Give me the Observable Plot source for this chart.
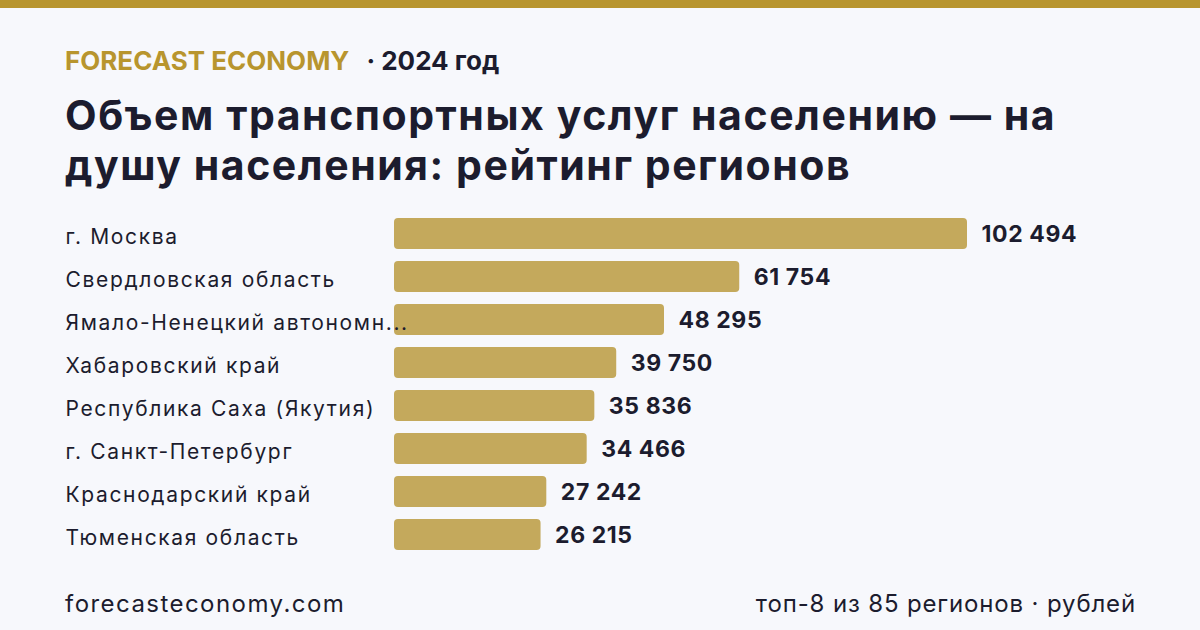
<!DOCTYPE html>
<html>
<head>
<meta charset="utf-8">
<script src="https://cdn.jsdelivr.net/npm/d3@7"></script>
<script src="https://cdn.jsdelivr.net/npm/@observablehq/plot@0.6"></script>
<style>
  html, body { margin: 0; padding: 0; }
  body { width: 1200px; height: 630px; background: #f7f8fc; position: relative; overflow: hidden; font-family: Inter, sans-serif; color: #1c1c2e; }
  .topbar { position: absolute; left: 0; top: 0; width: 1200px; height: 8px; background: #b8952f; }
  .brand { position: absolute; left: 65px; top: 45px; font-size: 26px; font-weight: 700; white-space: nowrap; }
  .brand .gold { color: #b8952e; }
  .brand .year { margin-left: 17px; }
  .title { position: absolute; left: 65px; top: 90px; width: 1050px; font-size: 41px; line-height: 50px; font-weight: 700; letter-spacing: 1.55px; }
  .foot-l { position: absolute; left: 65px; top: 589px; font-size: 24px; letter-spacing: 1.45px; }
  .foot-r { position: absolute; right: 64px; top: 589px; font-size: 24px; letter-spacing: 0.85px; }
  #chart { position: absolute; left: 0; top: 200px; }
  #chart g.labels { letter-spacing: 1.65px; }
  #chart g.values { letter-spacing: 0.6px; }
</style>
</head>
<body>
<div class="topbar"></div>
<div class="brand"><span class="gold">FORECAST ECONOMY</span><span class="year">· 2024 год</span></div>
<div class="title">Объем транспортных услуг населению — на душу населения: рейтинг регионов</div>
<div id="chart"></div>
<div class="foot-l">forecasteconomy.com</div>
<div class="foot-r">топ-8 из 85 регионов · рублей</div>
<script>
const regions = [
  "г. Москва",
  "Свердловская область",
  "Ямало-Ненецкий автономный округ",
  "Хабаровский край",
  "Республика Саха (Якутия)",
  "г. Санкт-Петербург",
  "Краснодарский край",
  "Тюменская область"
];
const values = [102494, 61754, 48295, 39750, 35836, 34466, 27242, 26215];

const data = regions.map((r, i) => ({region: r, value: values[i]}));
const fmt = v => d3.format(",")(v).replace(/,/g, " ");
const shortLabel = s => s.length > 24 ? s.slice(0, 23) + "..." : s;

const chart = Plot.plot({
  width: 1200,
  height: 370,
  marginLeft: 65,
  marginRight: 0,
  marginTop: 0,
  marginBottom: 0,
  style: {background: "transparent", fontFamily: "Inter, sans-serif", overflow: "visible"},
  x: {domain: [0, d3.max(values)], range: [394, 967], axis: null},
  y: {domain: regions, range: [12, 356], paddingInner: 0.28, paddingOuter: 0.14, axis: null},
  marks: [
    Plot.barX(data, {y: "region", x: "value", fill: "#c4a95c", r: 4}),
    Plot.text(data, {
      y: "region", text: d => shortLabel(d.region), frameAnchor: "left", textAnchor: "start",
      fontSize: 21, fill: "#1c1c2e", dy: 3
    }),
    Plot.text(data, {
      y: "region", x: "value", text: d => fmt(d.value), textAnchor: "start", dx: 14, dy: 1,
      fontSize: 23, fontWeight: 700, fill: "#1c1c2e"
    })
  ]
});
const groups = chart.querySelectorAll('g[aria-label="text"]');
if (groups[0]) groups[0].classList.add("labels");
if (groups[1]) groups[1].classList.add("values");
document.getElementById("chart").appendChild(chart);
</script>
</body>
</html>
